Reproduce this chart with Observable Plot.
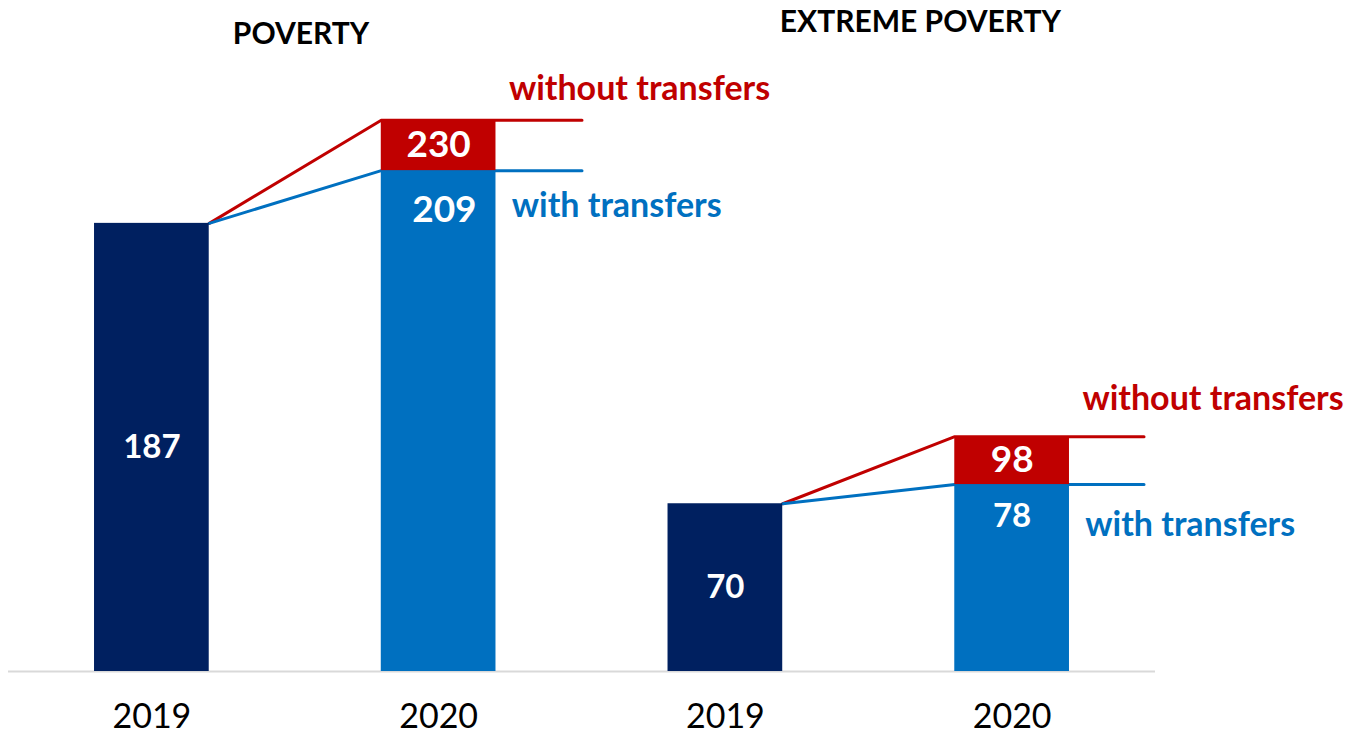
<!DOCTYPE html>
<html>
<head>
<meta charset="utf-8">
<script src="https://cdn.jsdelivr.net/npm/d3@7"></script>
<script src="https://cdn.jsdelivr.net/npm/@observablehq/plot@0.6"></script>
<style>
  html, body { margin: 0; padding: 0; background: #fff; }
  #chart svg { display: block; }
</style>
</head>
<body>
<div id="chart"></div>
<script>
// ---- data ----
const panels = ["POVERTY", "EXTREME POVERTY"];
const years = ["2019", "2020", "2019", "2020"];
const base2019 = [187, 70];          // 2019 level
const withTransfers = [209, 78];     // 2020 with transfers
const withoutTransfers = [230, 98];  // 2020 without transfers

const NAVY = "#002060", BLUE = "#0070C0", RED = "#C00000";
const FONT = "Lato, 'Open Sans', sans-serif";
const half = 0.2;      // half bar width (x units)
const ext = [0.3, 0.26];

const bars = [];
const lines = [];
panels.forEach((p, k) => {
  const i0 = 2 * k, i1 = 2 * k + 1;
  bars.push({x1: i0 - half, x2: i0 + half, y1: 0, y2: base2019[k], fill: NAVY});
  bars.push({x1: i1 - half, x2: i1 + half, y1: 0, y2: withTransfers[k], fill: BLUE});
  bars.push({x1: i1 - half, x2: i1 + half, y1: withTransfers[k], y2: withoutTransfers[k], fill: RED});
  [[withoutTransfers[k], RED, "without"], [withTransfers[k], BLUE, "with"]].forEach(([v, c, s]) => {
    lines.push({x: i0 + half, y: base2019[k], c, key: s + k});
    lines.push({x: i1 - half, y: v, c, key: s + k});
    lines.push({x: i1 + half + ext[k], y: v, c, key: s + k});
  });
});

// text mark helper (constant dy per mark)
const marks = [];
panels.forEach((p, k) => {
  const i0 = 2 * k, i1 = 2 * k + 1;
  marks.push(Plot.text([base2019[k]], {x: () => i0, y: (d) => d / 2, text: (d) => String(d), fill: "white", fontWeight: "bold", fontSize: 33}));
  marks.push(Plot.text([withoutTransfers[k]], {x: () => i1, y: (d) => (d + withTransfers[k]) / 2, text: (d) => String(d), fill: "white", fontWeight: "bold", fontSize: 37}));
  marks.push(Plot.text([withTransfers[k]], {x: () => i1 + (k === 0 ? 0.02 : 0), y: (d) => d, text: (d) => String(d), fill: "white", fontWeight: "bold", fontSize: k === 0 ? 37 : 33, dy: k === 0 ? 40 : 32}));
  marks.push(Plot.text(["without transfers"], {x: () => i1 + half + 0.045, y: () => withoutTransfers[k], text: (d) => d, fill: RED, fontWeight: "bold", fontSize: 34, textAnchor: "start", dy: k === 0 ? -31 : -38}));
  marks.push(Plot.text(["with transfers"], {x: () => i1 + half + 0.055, y: () => withTransfers[k], text: (d) => d, fill: BLUE, fontWeight: "bold", fontSize: 34, textAnchor: "start", dy: k === 0 ? 35 : 41}));
});
const titles = [
  {x: 0.52, y: 266, text: panels[0]},
  {x: 2.68, y: 271, text: panels[1]}
];

const chart = Plot.plot({
  width: 1352,
  height: 735,
  marginLeft: 8,
  marginRight: 197,
  marginTop: 0,
  marginBottom: 64,
  style: {fontFamily: FONT, background: "#fff"},
  x: {domain: [-0.5, 3.5], axis: null},
  y: {domain: [0, 280], axis: null},
  marks: [
    Plot.ruleY([0], {stroke: "#d9d9d9", strokeWidth: 2}),
    Plot.line(lines, {x: "x", y: "y", z: "key", stroke: "c", strokeWidth: 3}),
    Plot.rect(bars, {x1: "x1", x2: "x2", y1: "y1", y2: "y2", fill: "fill"}),
    ...marks,
    Plot.text(titles, {x: "x", y: "y", text: "text", fill: "black", fontWeight: "bold", fontSize: 30}),
    Plot.axisX({ticks: [0, 1, 2, 3], tickFormat: (d) => years[d], tickSize: 0, tickPadding: 32, fontSize: 34, color: "#000", fill: "#000"})
  ]
});
document.getElementById("chart").appendChild(chart);
</script>
</body>
</html>
